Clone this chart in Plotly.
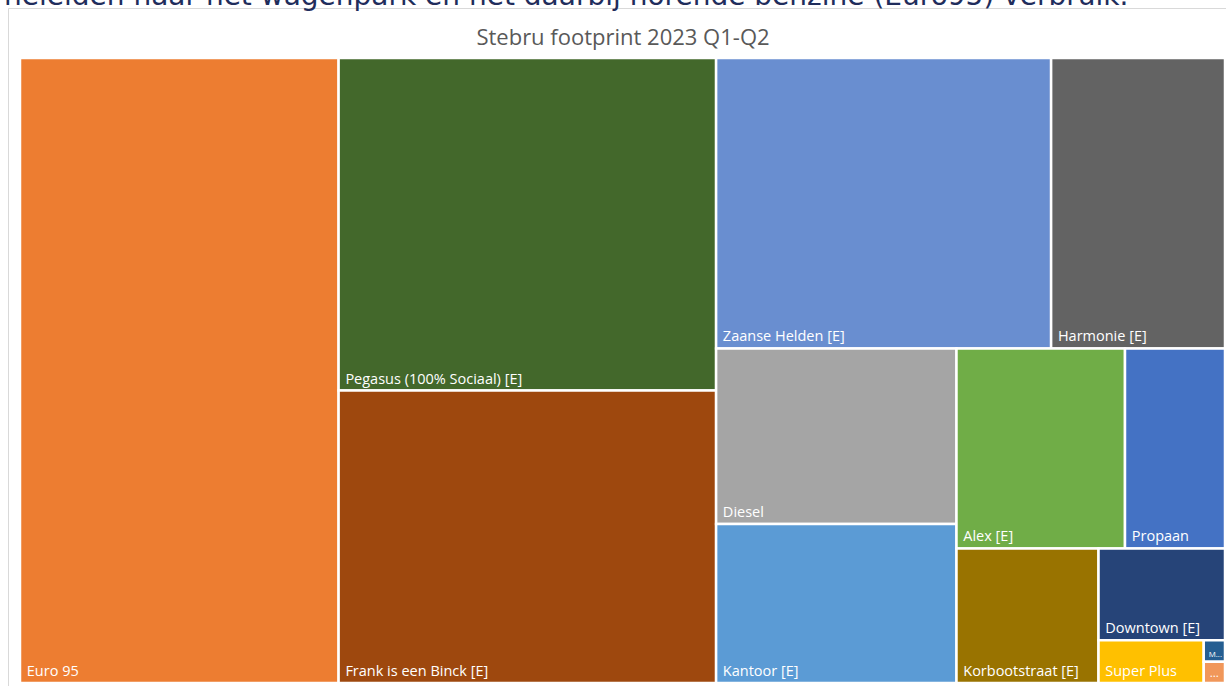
import plotly.graph_objects as go

# Data (relative footprint, read from tile areas)
labels = ["Euro 95", "Pegasus (100% Sociaal) [E]", "Frank is een Binck [E]",
          "Zaanse Helden [E]", "Harmonie [E]", "Diesel", "Kantoor [E]",
          "Alex [E]", "Propaan", "Korbootstraat [E]", "Downtown [E]",
          "Super Plus", "M...", "..."]
values = [1991, 1255, 1104, 973, 505, 422, 382, 337, 200, 191, 116, 45, 4.6, 4.5]
colors = ["#ED7D31", "#43682B", "#9E480E", "#698ED0", "#636363", "#A5A5A5",
          "#5B9BD5", "#70AD47", "#4472C4", "#997300", "#264478", "#FFC000",
          "#255E91", "#F1975A"]

W, H = 1226, 686
ML, MR, MT, MB = 20, 1, 58, 3

fig = go.Figure(go.Treemap(
    labels=labels,
    parents=[""] * len(labels),
    values=values,
    sort=True,
    marker=dict(colors=colors, line=dict(color="white", width=2.5),
                pad=dict(t=0, l=0, r=0, b=0)),
    tiling=dict(packing="squarify", squarifyratio=1, pad=0),
    pathbar=dict(visible=False),
    root=dict(color="white"),
    texttemplate="&nbsp;%{label}",
    textposition="bottom left",
    textfont=dict(family="Open Sans, Segoe UI, sans-serif", size=14.5, color="white"),
    hoverinfo="label+value",
))

pw = W - ML - MR
ph = H - MT - MB
def px_x(x):
    return (x - ML) / pw
def px_y(y):
    return 1 - (y - MT) / ph

fig.update_layout(
    width=W, height=H,
    margin=dict(l=ML, r=MR, t=MT, b=MB, pad=0),
    paper_bgcolor="white",
    title=dict(text="Stebru footprint 2023 Q1-Q2", x=px_x(623), xref="paper", xanchor="center",
               y=1 - 37 / H, yanchor="middle",
               font=dict(family="Open Sans, Segoe UI, sans-serif", size=22, color="#595959")),
    shapes=[
        dict(type="line", xref="paper", yref="paper", x0=px_x(8.5), x1=px_x(8.5),
             y0=px_y(8.5), y1=px_y(686), line=dict(color="#D9D9D9", width=1)),
        dict(type="line", xref="paper", yref="paper", x0=px_x(8.5), x1=px_x(1226),
             y0=px_y(8.5), y1=px_y(8.5), line=dict(color="#D9D9D9", width=1)),
    ],
    annotations=[
        dict(text="heleiden naar het wagenpark en het daarbij horende benzine (Euro95) verbruik.",
             xref="paper", yref="paper", x=px_x(2), y=px_y(-5), xanchor="left", yanchor="middle",
             showarrow=False,
             font=dict(family="DejaVu Sans, sans-serif", size=28, color="#1F2D5C")),
    ],
)

fig.write_html("out.html")
